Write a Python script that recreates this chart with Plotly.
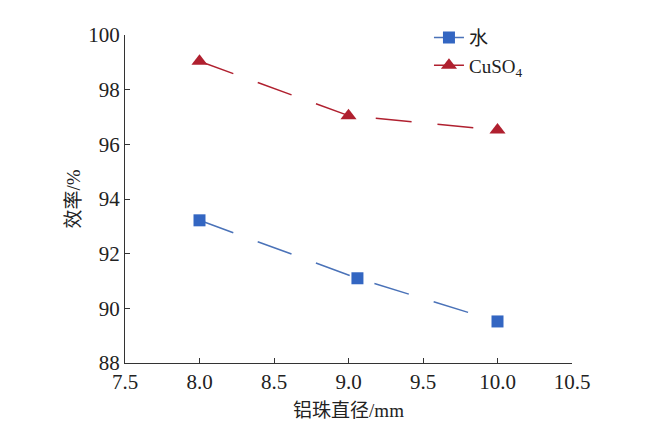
import plotly.graph_objects as go

# 铝珠直径 (mm)
water_x = [8.0, 9.06, 10.0]
water_y = [93.22, 91.1, 89.52]
cuso4_x = [8.0, 9.0, 10.0]
cuso4_y = [99.04, 97.05, 96.52]

series_names = ["水", "CuSO<sub>4</sub>"]
x_ticks = [7.5, 8.0, 8.5, 9.0, 9.5, 10.0, 10.5]
y_ticks = [88, 90, 92, 94, 96, 98, 100]

serif = "Liberation Serif"
serif_cjk = "Liberation Serif, Noto Sans CJK SC"

fig = go.Figure()
fig.add_trace(go.Scatter(
    x=water_x, y=water_y, name=series_names[0], mode="lines+markers",
    line=dict(color="#4a72b8", width=1.5, dash="36px,26px"),
    marker=dict(symbol="square", size=12, color="#3366c2"),
))
fig.add_trace(go.Scatter(
    x=cuso4_x, y=cuso4_y, name=series_names[1], mode="lines+markers",
    line=dict(color="#b0202f", width=1.5, dash="36px,26px"),
    marker=dict(symbol="triangle-up", size=14, color="#b0202f"),
))

axis_common = dict(
    showgrid=False, zeroline=False, showline=True, linecolor="#333333",
    linewidth=1.2, ticks="inside", ticklen=5, tickcolor="#333333",
    automargin=False,
    tickfont=dict(family=serif, size=21, color="#222222"),
)

# page body adds 8px, so margins are shifted to keep the reference's plot box
fig.update_layout(
    width=650, height=426,
    margin=dict(l=117, r=86, t=11, b=71),
    plot_bgcolor="white", paper_bgcolor="white",
    xaxis=dict(range=[7.5, 10.5], tickvals=x_ticks,
               ticktext=[f"{v:.1f}" for v in x_ticks],
               title=dict(text="铝珠直径/mm", standoff=10,
                          font=dict(family=serif_cjk, size=19, color="#222222")),
               **axis_common),
    yaxis=dict(range=[88, 100], tickvals=y_ticks,
               title=dict(text="效率/%", standoff=2,
                          font=dict(family=serif_cjk, size=19, color="#222222")),
               **axis_common),
    legend=dict(x=0.68, y=1.05, xanchor="left", yanchor="top",
                bgcolor="rgba(0,0,0,0)", tracegroupgap=0,
                font=dict(family=serif_cjk, size=19, color="#222222")),
    showlegend=True,
)

fig.write_html("out.html")
